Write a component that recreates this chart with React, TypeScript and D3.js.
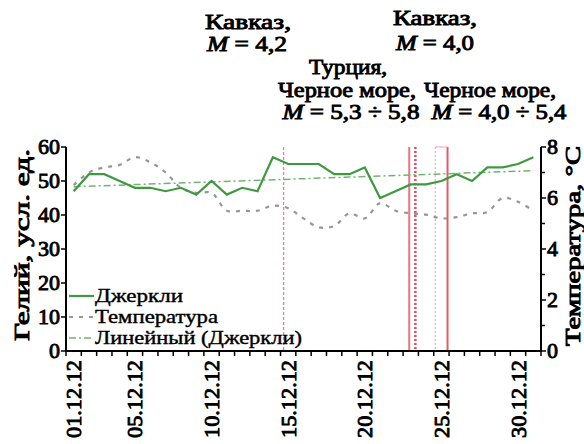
import React from 'react';
import * as d3 from 'd3';

// Gelium (Jerkly) series, one value per day of December 2012
const days = d3.range(1, 32);
const helium = [47, 52, 52, 50, 48, 48, 47, 48, 46, 50, 46, 48, 47, 57, 55, 55, 55, 52, 52, 54, 45, 47, 49, 49, 50, 52, 50, 54, 54, 55, 57];
const temperature = [6.5, 7.0, 7.2, 7.3, 7.6, 7.4, 7.0, 6.4, 6.2, 6.2, 5.5, 5.5, 5.5, 5.7, 5.6, 5.2, 4.85, 4.9, 5.4, 5.2, 5.8, 5.5, 5.4, 5.35, 5.2, 5.25, 5.4, 5.45, 6.0, 5.85, 5.5];
const xTickDays = [1, 5, 10, 15, 20, 25, 30];
const leftTicks = [0, 10, 20, 30, 40, 50, 60];
const rightTicks = [0, 2, 4, 6, 8];
const rightMinor = [1, 3, 5, 7];
// event markers (fractional day positions)
const eventDays = [14.7, 22.9, 23.3, 24.6, 25.4];
const legendLabels = ['Джеркли', 'Температура', 'Линейный (Джеркли)'];

const W = 584;
const H = 444;
const m = { left: 66, right: 541, top: 147, bottom: 351 };
const FONT = '"Liberation Serif", "Times New Roman", serif';

const GREEN = '#3f9a3f';
const TREND = '#72b472';
const GREY = '#969696';

// bold serif face is faked with a thin stroke
const bold = { stroke: '#000', strokeWidth: 0.9 };

export default function App() {
  const x = d3.scaleLinear().domain([0.5, 31.5]).range([m.left, m.right]);
  const yL = d3.scaleLinear().domain([0, 60]).range([m.bottom, m.top]);
  const yR = d3.scaleLinear().domain([0, 8]).range([m.bottom, m.top]);

  const heliumLine = d3.line<number>().x((_, i) => x(days[i])).y((d) => yL(d))(helium) || '';
  const tempLine = d3
    .line<number>()
    .x((_, i) => x(days[i]))
    .y((d) => yR(d))
    .curve(d3.curveCatmullRom.alpha(0.5))(temperature) || '';

  // linear trend (least squares) of the helium series
  const mx = d3.mean(days) as number;
  const my = d3.mean(helium) as number;
  const slope =
    d3.sum(days, (d, i) => (d - mx) * (helium[i] - my)) / d3.sum(days, (d) => (d - mx) * (d - mx));
  const trend = (d: number) => my + slope * (d - mx);

  const eventStyles = [
    { stroke: '#f27a94', width: 1.3, dash: '3,2' },
    { stroke: '#ee7484', width: 2, dash: '' },
    { stroke: '#e04c62', width: 2.5, dash: '2,2' },
    { stroke: '#f0aabb', width: 1.2, dash: '2,2' },
    { stroke: '#e25a6a', width: 2, dash: '' },
  ];

  const fmt = (d: number) => `${String(d).padStart(2, '0')}.12.12`;
  const boundaries = d3.range(0, 32).map((k) => 0.5 + k);

  const legendY = [296, 317, 338];
  const legendW = [88, 123, 207];
  const legendStyles = [
    { stroke: GREEN, dash: '', width: 2.2 },
    { stroke: GREY, dash: '4,6', width: 2 },
    { stroke: TREND, dash: '7,3,2,3', width: 1.5 },
  ];

  return (
    <svg
      width={W}
      height={H}
      style={{ position: 'absolute', left: 0, top: 0, background: '#fff' }}
      fontFamily={FONT}
    >
      {/* event markers */}
      {eventDays.map((d, i) => (
        <line
          key={'ev' + i}
          x1={x(d)}
          x2={x(d)}
          y1={m.top}
          y2={m.bottom}
          stroke={eventStyles[i].stroke}
          strokeWidth={eventStyles[i].width}
          strokeDasharray={eventStyles[i].dash}
        />
      ))}
      <line x1={x(eventDays[3])} x2={x(eventDays[4])} y1={m.top} y2={m.top} stroke="#f2a0b0" strokeWidth={1} />

      {/* trend line */}
      <line
        x1={x(1)}
        x2={x(31)}
        y1={yL(trend(1))}
        y2={yL(trend(31))}
        stroke={TREND}
        strokeWidth={1.5}
        strokeDasharray="7,3,2,3"
      />
      {/* temperature */}
      <path d={tempLine} fill="none" stroke={GREY} strokeWidth={2.2} strokeDasharray="4,6" />
      {/* helium */}
      <path d={heliumLine} fill="none" stroke={GREEN} strokeWidth={2.2} />

      {/* axes */}
      <line x1={m.left} x2={m.left} y1={m.top} y2={m.bottom} stroke="#000" strokeWidth={2} />
      <line x1={m.right} x2={m.right} y1={m.top} y2={m.bottom} stroke="#000" strokeWidth={2} />
      <line x1={m.left - 1} x2={m.right + 1} y1={m.bottom} y2={m.bottom} stroke="#000" strokeWidth={2} />

      {leftTicks.map((t) => (
        <g key={'l' + t} transform={`translate(${m.left},${yL(t)})`}>
          <line x1={-5} x2={0} stroke="#000" strokeWidth={1.5} />
          <text x={-6} dy="0.34em" textAnchor="end" fontSize={22} {...bold}>
            {t}
          </text>
        </g>
      ))}
      {rightTicks.map((t) => (
        <g key={'r' + t} transform={`translate(${m.right},${yR(t)})`}>
          <line x1={0} x2={5} stroke="#000" strokeWidth={1.5} />
          <text x={6} dy="0.34em" textAnchor="start" fontSize={22} {...bold}>
            {t}
          </text>
        </g>
      ))}
      {rightMinor.map((t) => (
        <line key={'rm' + t} x1={m.right} x2={m.right + 4} y1={yR(t)} y2={yR(t)} stroke="#000" strokeWidth={1.5} />
      ))}
      {boundaries.map((b) => (
        <line key={'b' + b} x1={x(b)} x2={x(b)} y1={m.bottom} y2={m.bottom + 5} stroke="#000" strokeWidth={1.5} />
      ))}
      {xTickDays.map((d) => (
        <text
          key={'x' + d}
          transform={`translate(${x(d)},${m.bottom + 9}) rotate(-90)`}
          textAnchor="end"
          dy="0.34em"
          fontSize={22}
          textLength={78}
          lengthAdjust="spacingAndGlyphs"
          {...bold}
        >
          {fmt(d)}
        </text>
      ))}

      {/* axis titles */}
      <text
        transform={`translate(22,245) rotate(-90)`}
        textAnchor="middle"
        dy="0.34em"
        fontSize={21}
        textLength={192}
        lengthAdjust="spacingAndGlyphs"
        {...bold}
      >
        Гелий, усл. ед.
      </text>
      <text
        transform={`translate(573,246) rotate(-90)`}
        textAnchor="middle"
        dy="0.34em"
        fontSize={20}
        textLength={200}
        lengthAdjust="spacingAndGlyphs"
        {...bold}
      >
        Температура, °С
      </text>

      {/* legend */}
      {legendLabels.map((lab, i) => (
        <g key={'lg' + i}>
          <line
            x1={69}
            x2={94}
            y1={legendY[i]}
            y2={legendY[i]}
            stroke={legendStyles[i].stroke}
            strokeWidth={legendStyles[i].width}
            strokeDasharray={legendStyles[i].dash}
          />
          <text
            x={95}
            y={legendY[i]}
            dy="0.32em"
            fontSize={19}
            textLength={legendW[i]}
            lengthAdjust="spacingAndGlyphs"
            stroke="#000"
            strokeWidth={0.4}
          >
            {lab}
          </text>
        </g>
      ))}

      {/* annotations */}
      <g fontSize={21} textAnchor="middle" {...bold}>
        <text x={248} y={29} textLength={86} lengthAdjust="spacingAndGlyphs">Кавказ,</text>
        <text x={247} y={51} textLength={80} lengthAdjust="spacingAndGlyphs">
          <tspan fontStyle="italic">M</tspan> = 4,2
        </text>
        <text x={435} y={25} textLength={84} lengthAdjust="spacingAndGlyphs">Кавказ,</text>
        <text x={435} y={50} textLength={78} lengthAdjust="spacingAndGlyphs">
          <tspan fontStyle="italic">M</tspan> = 4,0
        </text>
        <text x={348} y={74} textLength={78} lengthAdjust="spacingAndGlyphs">Турция,</text>
        <text x={347} y={97} textLength={138} lengthAdjust="spacingAndGlyphs">Черное море,</text>
        <text x={490} y={97} textLength={132} lengthAdjust="spacingAndGlyphs">Черное море,</text>
        <text x={351} y={119} textLength={137} lengthAdjust="spacingAndGlyphs">
          <tspan fontStyle="italic">M</tspan> = 5,3 ÷ 5,8
        </text>
        <text x={499} y={119} textLength={135} lengthAdjust="spacingAndGlyphs">
          <tspan fontStyle="italic">M</tspan> = 4,0 ÷ 5,4
        </text>
      </g>
    </svg>
  );
}
